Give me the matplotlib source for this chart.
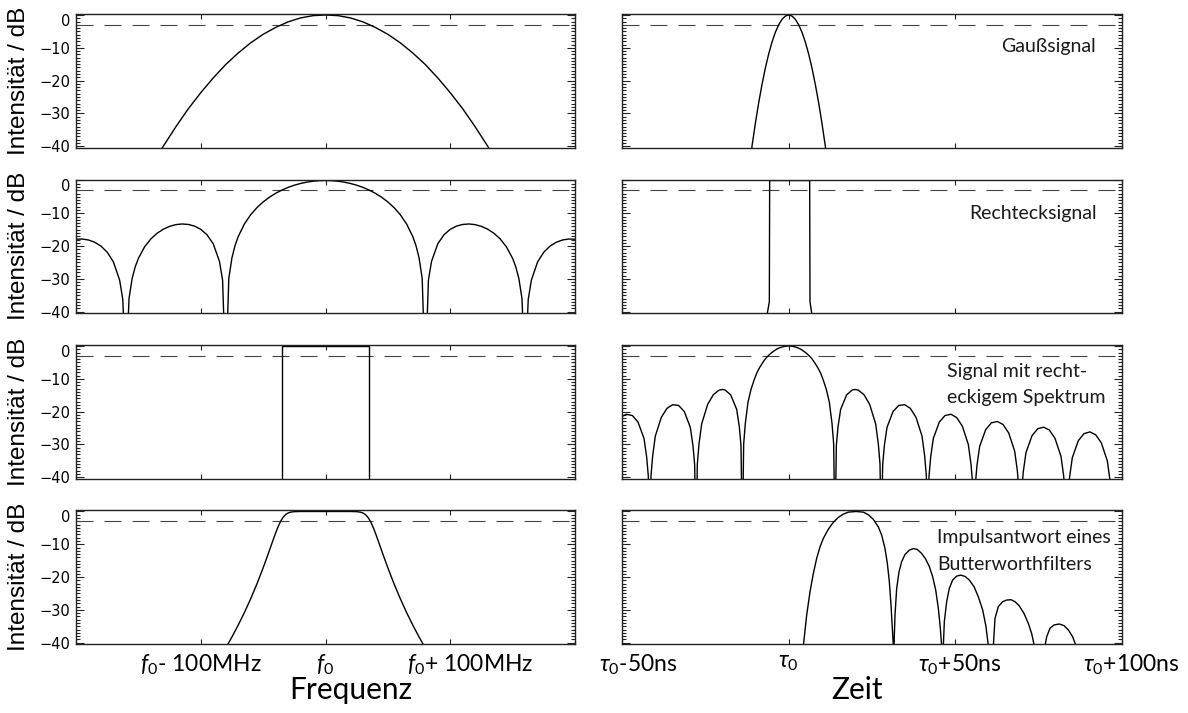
import matplotlib
matplotlib.use('Agg')
import matplotlib.pyplot as plt
import matplotlib.transforms as mtransforms
from matplotlib.ticker import FixedLocator, MultipleLocator

# --- Gaussian signal: spectrum (MHz) and pulse (ns), levels in dB
freq_gauss = [-132, -130, -120, -110, -100, -90, -80, -70, -60, -50, -40, -30, -20, -10, 0,
              10, 20, 30, 40, 50, 60, 70, 80, 90, 100, 110, 120, 130, 132]
spec_gauss = [-41.2, -40.0, -34.1, -28.6, -23.7, -19.2, -15.1, -11.6, -8.5, -5.9, -3.8, -2.1, -0.9, -0.2, 0.0,
              -0.2, -0.9, -2.1, -3.8, -5.9, -8.5, -11.6, -15.1, -19.2, -23.7, -28.6, -34.1, -40.0, -41.2]
time_gauss = [-11.1, -11, -10, -9, -8, -7, -6, -5, -4, -3, -2, -1, 0,
              1, 2, 3, 4, 5, 6, 7, 8, 9, 10, 11, 11.1]
pulse_gauss = [-41, -40.0, -33.1, -26.8, -21.2, -16.2, -11.9, -8.26, -5.29, -2.98, -1.32, -0.33, 0.0,
               -0.33, -1.32, -2.98, -5.29, -8.26, -11.9, -16.2, -21.2, -26.8, -33.1, -40.0, -41]

# --- rectangular pulse: sinc spectrum and the pulse itself
freq_sinc = [-200, -195, -190, -185, -180, -175, -170, -165, -162.5, -160, -157.5, -155, -152.5,
             -150, -145, -140, -135, -130, -125, -120, -115, -110, -105, -100, -95, -90, -85,
             -82.5, -80, -77.5, -75, -72.5, -70, -65, -60, -55, -50, -45, -40, -35, -30, -25,
             -20, -15, -10, -5, 0, 5, 10, 15, 20, 25, 30, 35, 40, 45, 50, 55, 60, 65, 70, 72.5,
             75, 77.5, 80, 82.5, 85, 90, 95, 100, 105, 110, 115, 120, 125, 130, 135, 140, 145,
             150, 152.5, 155, 157.5, 160, 162.5, 165, 170, 175, 180, 185, 190, 195, 200]
spec_sinc = [-17.90, -17.85, -18.14, -18.83, -20.00, -21.85, -24.83, -30.43, -36.27, -60, -36.00, -29.88, -26.29,
             -23.75, -20.21, -17.81, -16.09, -14.85, -13.99, -13.46, -13.26, -13.40, -13.91, -14.89, -16.54, -19.31, -24.66,
             -30.38, -60, -29.84, -23.58, -19.83, -17.13, -13.25, -10.45, -8.29, -6.55, -5.11, -3.92, -2.93, -2.11, -1.44,
             -0.91, -0.51, -0.22, -0.06, 0.00, -0.06, -0.22, -0.51, -0.91, -1.44, -2.11, -2.93, -3.92, -5.11, -6.55, -8.29,
             -10.45, -13.25, -17.13, -19.83, -23.58, -29.84, -60, -30.38, -24.66, -19.31, -16.54, -14.89, -13.91, -13.40,
             -13.26, -13.46, -13.99, -14.85, -16.09, -17.81, -20.21, -23.75, -26.29, -29.88, -36.00, -60, -36.27, -30.43,
             -24.83, -21.85, -20.00, -18.83, -18.14, -17.85, -17.90]
time_rect = [-6.5, -5.8, -5.7, 6.3, 6.4, 7.0]
pulse_rect = [-41, -37, 0.0, 0.0, -37, -41]

# --- rectangular spectrum and its sinc-shaped pulse
freq_box = [-35, -35, 35, 35]
spec_box = [-41, 0.0, 0.0, -41]
time_sinc = [-50.0, -48.7, -46.9, -45.2, -43.4, -42.6, -42.1, -41.7,
             -41.3, -40.8, -40.0, -38.2, -36.5, -34.8, -33.0, -31.3, -29.5, -28.7, -28.2, -27.8,
             -27.4, -26.9, -26.1, -24.3, -22.6, -20.9, -19.9, -19.1, -17.4, -15.6, -14.8, -14.3, -13.9,
             -13.5, -13.0, -12.2, -11.3, -10.4, -9.6, -8.7, -7.8, -7.0, -6.1, -5.2, -4.3, -3.5, -2.6, -1.7, -0.9, 0.0,
             0.9, 1.7, 2.6, 3.5, 4.3, 5.2, 6.1, 7.0, 7.8, 8.7, 9.6, 10.4, 11.3, 12.2, 13.0, 13.5, 13.9,
             14.3, 14.8, 15.6, 17.4, 19.1, 19.9, 20.9, 22.6, 24.3, 26.1, 26.9, 27.4, 27.8,
             28.2, 28.7, 29.5, 31.3, 33.0, 34.8, 36.5, 38.2, 40.0, 40.8, 41.3, 41.7,
             42.1, 42.6, 43.4, 45.2, 46.9, 48.7, 50.4, 52.1, 53.9, 54.7, 55.2, 55.6,
             56.0, 56.5, 57.3, 59.1, 60.8, 62.6, 64.3, 66.0, 67.8, 68.6, 69.1, 69.5,
             69.9, 70.4, 71.2, 73.0, 74.7, 76.5, 78.2, 79.9, 81.7, 82.5, 83.0, 83.4,
             83.8, 84.3, 85.1, 86.9, 88.6, 90.4, 92.1, 93.8, 95.6, 96.4, 96.9, 97.3]
pulse_sinc = [-21.47, -20.82, -21.20, -23.19, -28.18, -33.86, -39.75, -60,
              -39.57, -33.50, -27.46, -21.74, -19.01, -17.90, -18.14, -20.00, -24.83, -30.43, -36.27, -60,
              -36.00, -29.88, -23.75, -17.81, -14.85, -13.47, -13.26, -13.40, -14.89, -19.31, -24.67, -30.38, -60,
              -29.84, -23.58, -17.13, -13.25, -10.45, -8.29, -6.55, -5.11, -3.92, -2.93, -2.11, -1.44, -0.91, -0.51, -0.22, -0.06, 0.0,
              -0.06, -0.22, -0.51, -0.91, -1.44, -2.11, -2.93, -3.92, -5.11, -6.55, -8.29, -10.45, -13.25, -17.13, -23.58, -29.84, -60,
              -30.38, -24.67, -19.31, -14.89, -13.40, -13.26, -13.47, -14.85, -17.81, -23.75, -29.88, -36.00, -60,
              -36.27, -30.43, -24.83, -20.00, -18.14, -17.90, -19.01, -21.74, -27.46, -33.50, -39.57, -60,
              -39.75, -33.86, -28.18, -23.19, -21.20, -20.82, -21.82, -24.43, -30.05, -36.04, -42.09, -60,
              -42.23, -36.31, -30.60, -25.52, -23.45, -23.01, -23.93, -26.49, -32.05, -38.01, -44.04, -60,
              -44.15, -38.23, -32.48, -27.36, -25.24, -24.75, -25.63, -28.15, -33.67, -39.61, -45.63, -60,
              -45.72, -39.79, -34.03, -28.87, -26.72, -26.20, -27.06, -29.54, -35.03, -40.96, -46.98, -60]

# --- Butterworth band pass: transfer function and impulse response
freq_bw = [-80, -78, -75, -70, -65, -60, -55, -50, -46, -43, -40, -38, -36, -34, -32, -30, -28, -25, -20, 0,
           20, 25, 28, 30, 32, 34, 36, 38, 40, 43, 46, 50, 55, 60, 65, 70, 75, 78, 80]
spec_bw = [-41.6, -40.29, -38.25, -34.66, -30.80, -26.63, -22.11, -17.20, -13.00, -9.75, -6.57, -4.65, -3.01, -1.77,
           -0.95, -0.46, -0.21, -0.05, 0.0, 0.0, 0.0, -0.05, -0.21, -0.46, -0.95, -1.77, -3.01, -4.65, -6.57, -9.75,
           -13.00, -17.20, -22.11, -26.63, -30.80, -34.66, -38.25, -40.29, -41.6]
time_bw = [4.4, 5.4, 6.4, 7.4, 8.4, 9.4, 10.4, 11.9, 13.4, 14.9, 16.4, 17.9, 20.2, 22.4, 23.9, 25.4, 26.9, 27.9,
           28.9, 29.6, 30.2, 30.7, 31.1, 31.4,
           31.6, 31.9, 32.4, 33.1, 33.9, 34.9, 36.2, 37.4, 38.6, 39.9, 41.1, 42.2, 43.2, 44.1, 44.9, 45.5, 45.9,
           46.4, 46.7, 47.4, 48.2, 49.2, 50.4, 51.6, 52.9, 54.2, 55.6, 56.9, 58.2, 59.2, 59.9,
           61.4, 61.9, 62.9, 64.2, 65.4, 66.7, 67.9, 69.2, 70.6, 71.9, 72.9, 73.7,
           76.9, 77.4, 78.4, 79.6, 81.2, 82.6, 83.9, 85.2, 86.2]
pulse_bw = [-41, -31.6, -24.5, -18.9, -14.3, -10.8, -8.2, -5.4, -3.3, -1.8, -0.8, -0.2, 0.0, -0.2, -1.0, -2.4, -4.7,
            -7.2, -11.3, -15.8, -21.4, -28.5, -35.6, -41,
            -41, -31.6, -23.5, -18.4, -15.3, -13.1, -11.8, -11.3, -11.6, -12.8, -14.5, -16.8, -19.9, -23.9, -29.5, -35.6, -41,
            -41, -33.6, -27.5, -23.4, -20.9, -19.7, -19.4, -19.8, -20.9, -22.9, -26.0, -30.0, -35.1, -41,
            -41, -32.6, -29.0, -27.5, -27.0, -26.9, -27.5, -28.8, -31.1, -34.1, -37.2, -41,
            -41, -38.2, -35.6, -34.6, -34.3, -34.8, -36.1, -38.2, -41]

freq_ticks = [-200, -100, 0, 100, 200]
freq_labels = ['', r'$f_0$- 100MHz', r'$f_0$', r'$f_0$+ 100MHz', '']
time_ticks = [-50, 0, 50, 100]
time_labels = [r'$\tau_0$-50ns', r'$\tau_0$', r'$\tau_0$+50ns', r'$\tau_0$+100ns']
db_ticks = [-40, -30, -20, -10, 0]
db_labels = ['\u221240', '\u221230', '\u221220', '\u221210', '0']

spectra = [(freq_gauss, spec_gauss), (freq_sinc, spec_sinc), (freq_box, spec_box), (freq_bw, spec_bw)]
pulses = [(time_gauss, pulse_gauss), (time_rect, pulse_rect), (time_sinc, pulse_sinc), (time_bw, pulse_bw)]

plt.rcParams['mathtext.fontset'] = 'custom'
plt.rcParams['mathtext.rm'] = 'Lato'
plt.rcParams['mathtext.it'] = 'Lato:italic'

W, H = 1188, 713
fig = plt.figure(figsize=(W / 100, H / 100), dpi=100)

col_left = [76, 622]
col_width = [499, 500]
row_top = [14, 179.5, 345, 510.5]
row_h = 133.5

# horizontal nudges (pixels) of some bottom tick labels
freq_label_shift = [0, 0, 0, 20, 0]
time_label_shift = [16, 0, 4, 9]


def nudge(label, dx_px, dy_px):
    shift = mtransforms.ScaledTranslation(dx_px / 100, dy_px / 100, fig.dpi_scale_trans)
    label.set_transform(label.get_transform() + shift)


def setup_axes(ax, col, row):
    ax.set_ylim(-40.4, 0.3)
    if col == 0:
        ax.set_xlim(-200, 200)
        ax.xaxis.set_major_locator(FixedLocator(freq_ticks))
    else:
        ax.set_xlim(-50, 100)
        ax.xaxis.set_major_locator(FixedLocator(time_ticks))
    ax.yaxis.set_major_locator(FixedLocator(db_ticks))
    ax.yaxis.set_minor_locator(MultipleLocator(1))
    ax.tick_params(which='both', direction='in', top=True, right=True, color='#222222', width=0.8)
    ax.tick_params(axis='x', which='major', length=3.5, pad=6)
    ax.tick_params(axis='y', which='major', length=6, pad=4)
    ax.tick_params(axis='y', which='minor', length=3)
    for sp in ax.spines.values():
        sp.set_linewidth(1.0)
        sp.set_color('#222222')

    if row == 3:
        labels = freq_labels if col == 0 else time_labels
        shifts = freq_label_shift if col == 0 else time_label_shift
        ax.set_xticklabels(labels, fontsize=16.5, family='Lato')
        for tick, dx in zip(ax.xaxis.get_major_ticks(), shifts):
            if dx:
                nudge(tick.label1, dx, 0)
    else:
        ax.set_xticklabels([])

    if col == 0:
        ax.set_yticklabels(db_labels, fontsize=10.5, family='DejaVu Sans')
        ax.set_ylabel('Intensität / dB', fontsize=17.5, family='Liberation Sans')
        ax.yaxis.set_label_coords(-0.092, 0.5)
        # the "0" label sits a little lower than its tick
        nudge(ax.yaxis.get_major_ticks()[-1].label1, 0, -5)
    else:
        ax.set_yticklabels([])

    # -3 dB reference line
    ax.axhline(-3, color='#444444', lw=0.8, dashes=(15.3, 9.9))


for row in range(4):
    for col in range(2):
        x0 = col_left[col] / W
        y0 = 1 - (row_top[row] + row_h) / H
        ax = fig.add_axes([x0, y0, col_width[col] / W, row_h / H])
        setup_axes(ax, col, row)
        xs, ys = spectra[row] if col == 0 else pulses[row]
        ax.plot(xs, ys, color='black', lw=1.0, solid_joinstyle='round')


def fig_text(x, y, s, **kw):
    fig.text(x / W, 1 - y / H, s, **kw)


note = dict(fontsize=14, family='Lato', weight='normal', color='#1a1a1a', va='baseline')
fig_text(1096, 52, 'Gaußsignal', ha='right', **note)
fig_text(1097, 219, 'Rechtecksignal', ha='right', **note)
fig_text(947, 377, 'Signal mit recht-', ha='left', **note)
fig_text(947, 403, 'eckigem Spektrum', ha='left', **note)
fig_text(937, 543, 'Impulsantwort eines', ha='left', **note)
fig_text(937, 570, 'Butterworthfilters', ha='left', **note)

fig_text(351, 690, 'Frequenz', ha='center', va='center', fontsize=21.5, family='Lato')
fig_text(857, 690, 'Zeit', ha='center', va='center', fontsize=21.5, family='Lato')

fig.savefig('out.png', dpi=100)
